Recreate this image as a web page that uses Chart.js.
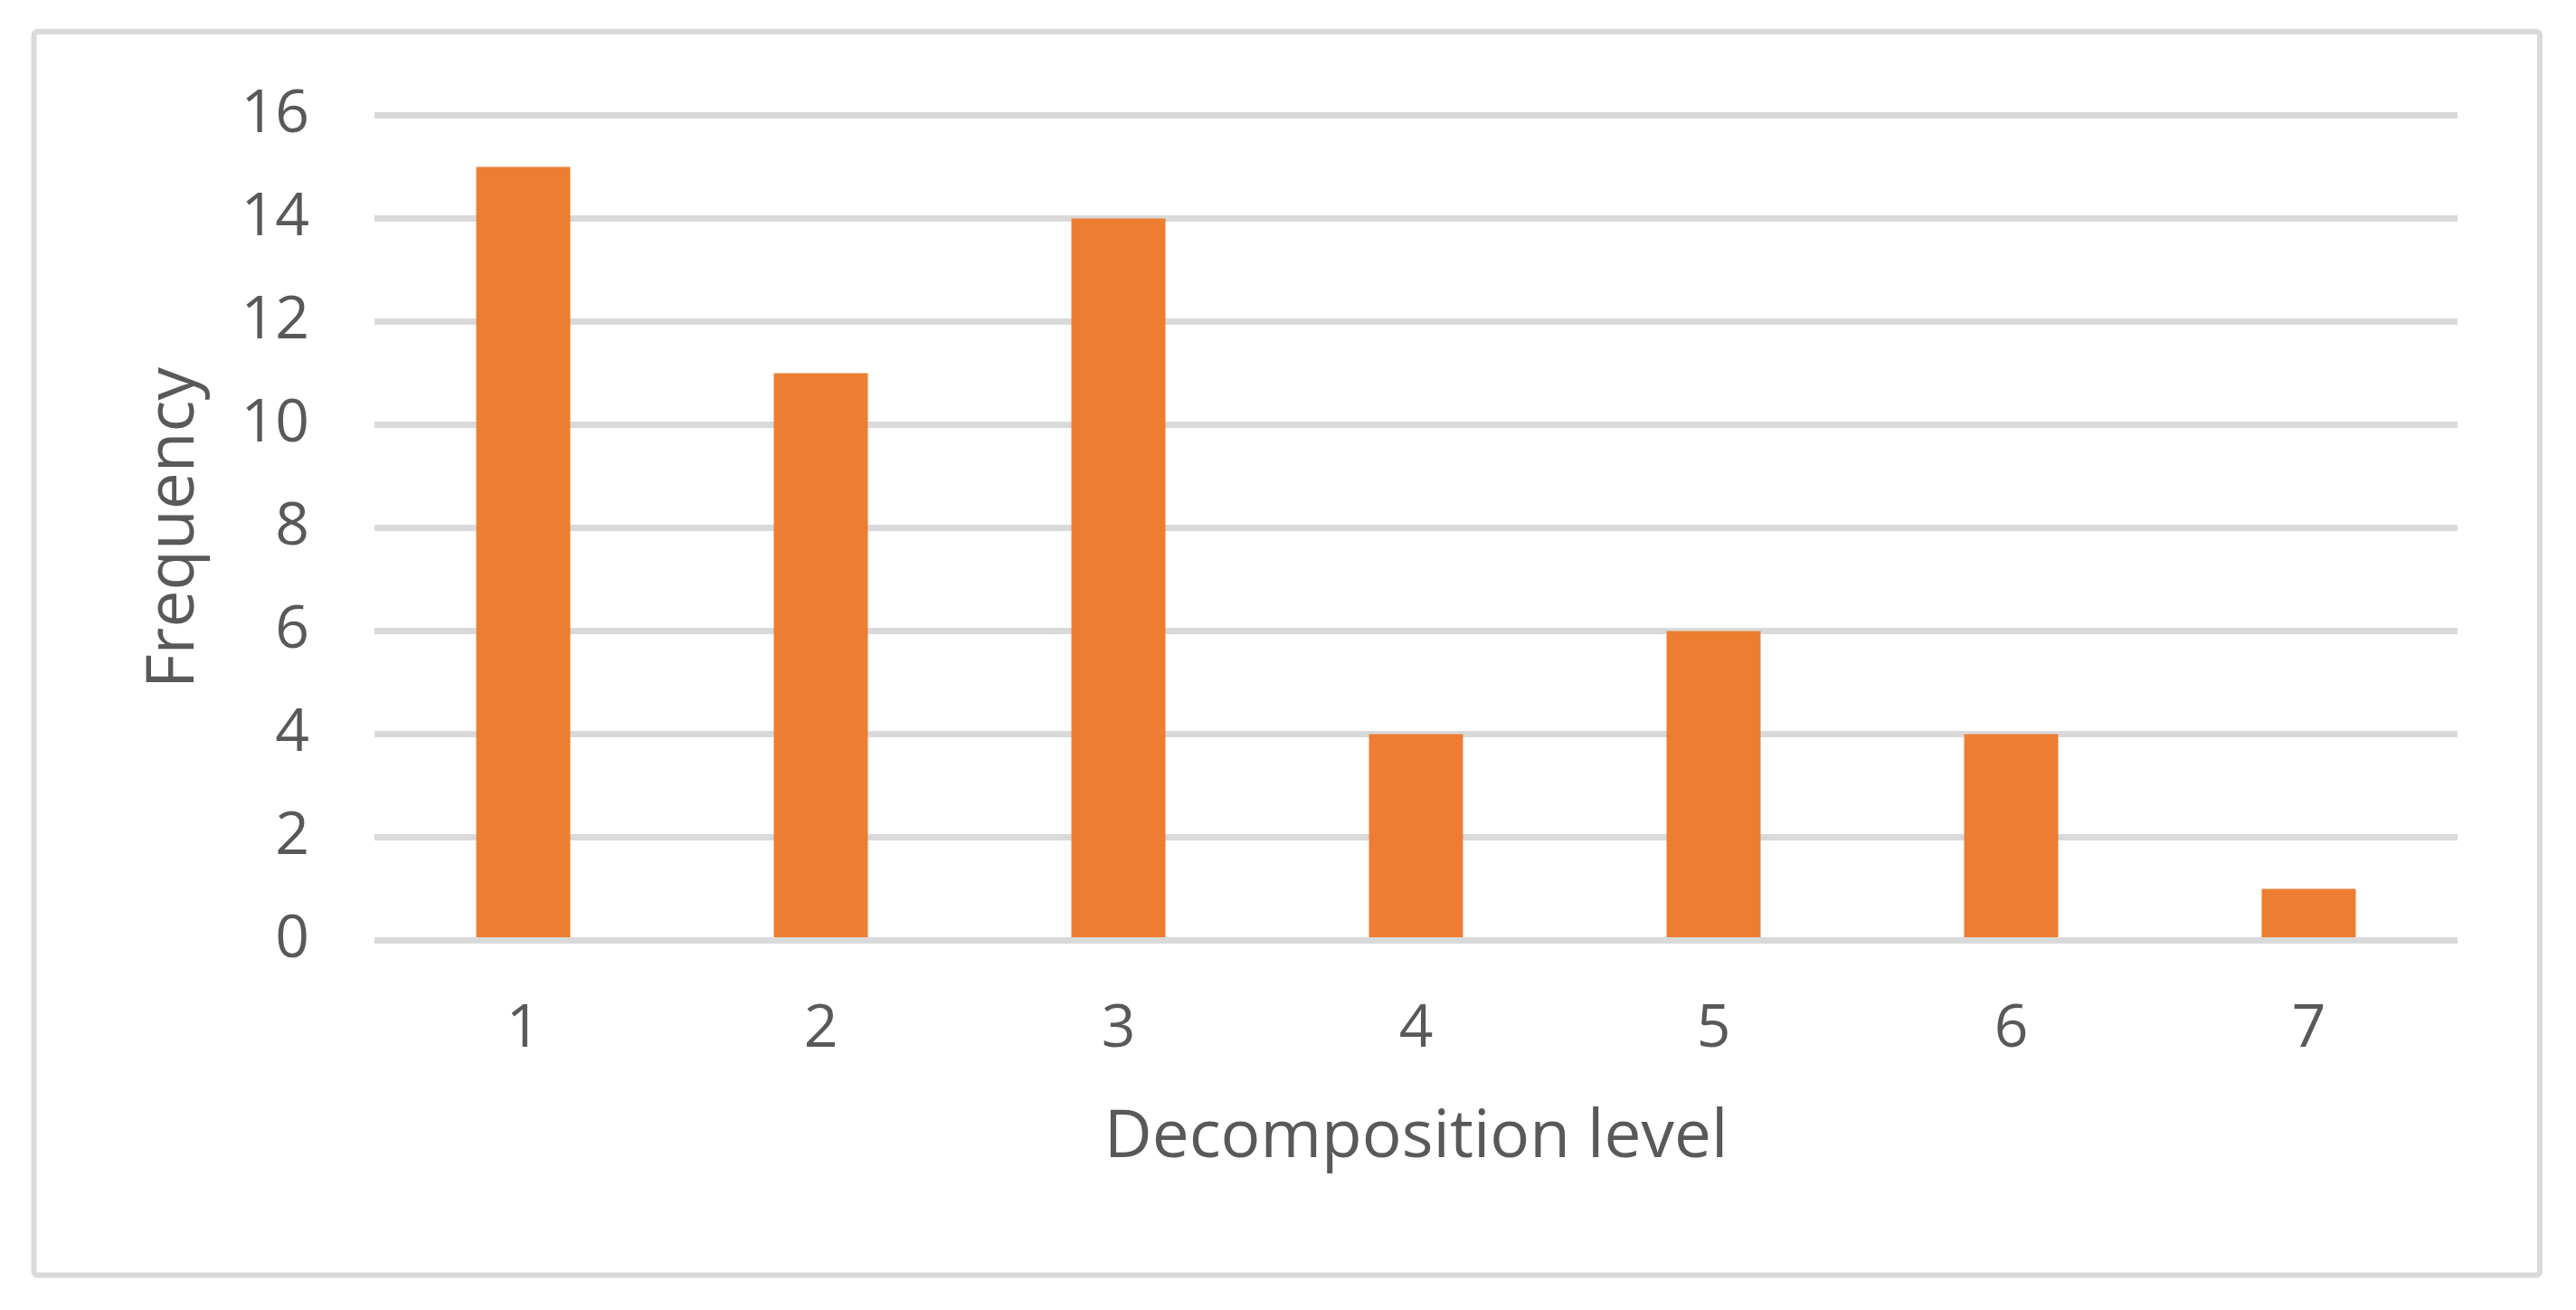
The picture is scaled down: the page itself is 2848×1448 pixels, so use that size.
<!DOCTYPE html>
<html>
<head>
<meta charset="utf-8">
<script src="https://cdn.jsdelivr.net/npm/chart.js@4"></script>
<style>
  html, body { margin: 0; padding: 0; background: #ffffff; overflow: hidden; }
  canvas { display: block; }
</style>
</head>
<body>
<canvas id="freqChart" width="2848" height="1448"></canvas>
<script>
// decomposition levels and how often each one occurs
var levels = ["1", "2", "3", "4", "5", "6", "7"];
var frequency = [15, 11, 14, 4, 6, 4, 1];
var yTicks = [0, 2, 4, 6, 8, 10, 12, 14, 16];

var textColor = "#595959";
var lineColor = "#d9d9d9";
var fontFamily = "'Open Sans', 'Liberation Sans', sans-serif";

// outer frame like the office chart border
var frameBorder = {
  id: "frameBorder",
  beforeDraw: function (chart) {
    var ctx = chart.ctx;
    ctx.save();
    ctx.fillStyle = "#ffffff";
    ctx.fillRect(0, 0, chart.width, chart.height);
    ctx.strokeStyle = lineColor;
    ctx.lineWidth = 6;
    ctx.beginPath();
    ctx.roundRect(37.5, 35, 2770.5, 1374.5, 4);
    ctx.stroke();
    ctx.restore();
  },
};

var ctx = document.getElementById("freqChart").getContext("2d");
var myChart = new Chart(ctx, {
  type: "bar",
  data: {
    labels: levels,
    datasets: [
      {
        label: "Frequency",
        data: frequency,
        backgroundColor: "#ed7d31",
        borderWidth: 0,
        barPercentage: 0.316,
        categoryPercentage: 1,
      },
    ],
  },
  options: {
    responsive: false,
    devicePixelRatio: 1,
    animation: false,
    layout: {
      padding: { left: 0, right: 131, top: 127.5, bottom: 0 },
    },
    plugins: {
      legend: { display: false },
      tooltip: { enabled: false },
    },
    scales: {
      x: {
        grid: { display: false, drawTicks: false },
        border: { display: false },
        ticks: {
          color: textColor,
          padding: 59,
          font: { family: fontFamily, size: 66 },
        },
        title: {
          display: true,
          text: "Decomposition level",
          color: textColor,
          padding: { top: 0, bottom: 146 },
          font: { family: fontFamily, size: 73 },
        },
        afterFit: function (scale) {
          scale.height = 408.5;
        },
      },
      y: {
        min: 0,
        max: 16,
        afterBuildTicks: function (scale) {
          scale.ticks = yTicks.map(function (v) {
            return { value: v };
          });
        },
        grid: { color: lineColor, lineWidth: 7, drawTicks: false },
        border: { display: false },
        ticks: {
          color: textColor,
          padding: 72,
          font: { family: fontFamily, size: 66 },
        },
        title: {
          display: true,
          text: "Frequency",
          color: textColor,
          padding: { top: 149, bottom: 0 },
          font: { family: fontFamily, size: 73 },
        },
        afterFit: function (scale) {
          scale.width = 414;
        },
      },
    },
  },
  plugins: [frameBorder],
});
</script>
</body>
</html>
